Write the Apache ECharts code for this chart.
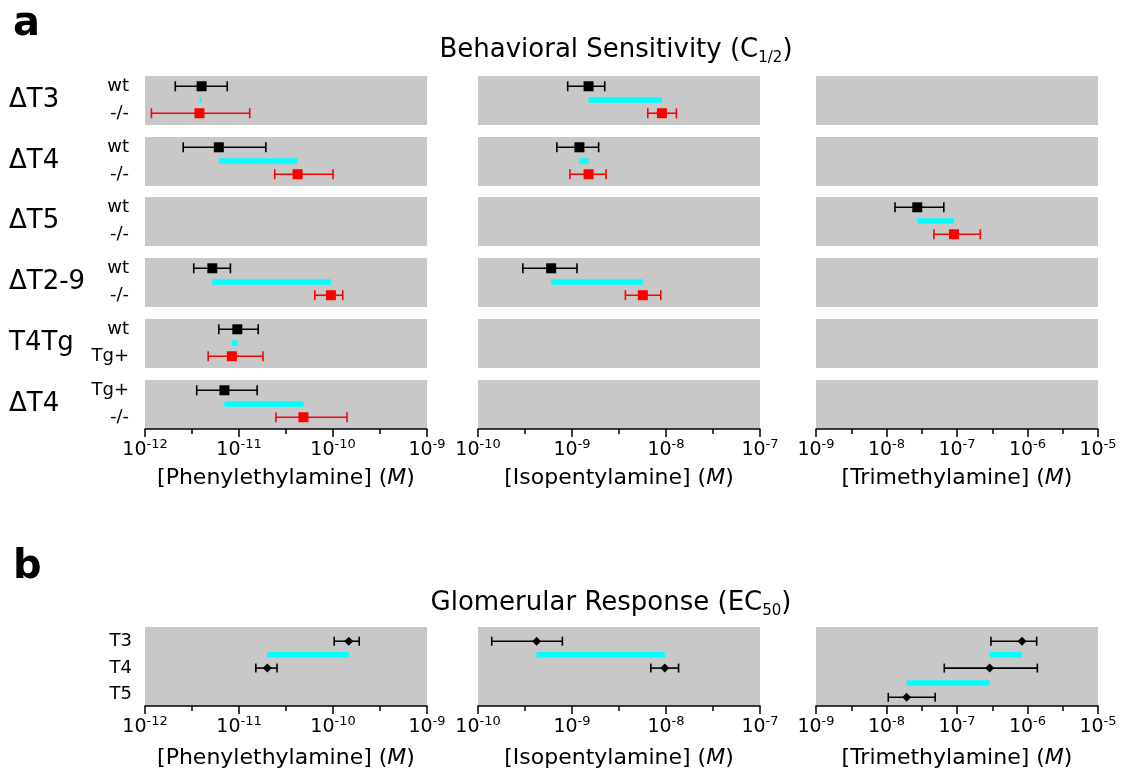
<!DOCTYPE html>
<html>
<head>
<meta charset="utf-8">
<title>Behavioral Sensitivity / Glomerular Response</title>
<script src="https://cdn.jsdelivr.net/npm/echarts@6.0.0/dist/echarts.min.js"></script>
<style>
  html, body { margin: 0; padding: 0; background: #fff; }
  #main { width: 1125px; height: 773px; }
</style>
</head>
<body>
<div id="main"></div>
<script>
// ---------------- data ----------------
const odorants = ['Phenylethylamine', 'Isopentylamine', 'Trimethylamine'];
const expMin = [-12, -10, -9];
const expMax = [-9, -7, -5];

const conditions = ['ΔT3', 'ΔT4', 'ΔT5', 'ΔT2-9', 'T4Tg', 'ΔT4'];
const ctrlLabels = ['wt', 'wt', 'wt', 'wt', 'wt', 'Tg+'];
const mutLabels = ['-/-', '-/-', '-/-', '-/-', 'Tg+', '-/-'];

// behavioral C1/2 : [mean, lower, upper] in M, null = not tested
const peaCtrl = [[4.0e-12, 2.1e-12, 7.5e-12], [6.1e-12, 2.55e-12, 1.93e-11], null,
  [5.2e-12, 3.3e-12, 8.1e-12], [9.6e-12, 6.1e-12, 1.6e-11], [7.0e-12, 3.55e-12, 1.56e-11]];
const peaMut = [[3.8e-12, 1.17e-12, 1.3e-11], [4.2e-11, 2.4e-11, 1.0e-10], null,
  [9.5e-11, 6.4e-11, 1.27e-10], [8.4e-12, 4.7e-12, 1.8e-11], [4.85e-11, 2.47e-11, 1.41e-10]];
const ipaCtrl = [[1.5e-9, 9.0e-10, 2.23e-9], [1.2e-9, 6.9e-10, 1.92e-9], null,
  [6.0e-10, 3.0e-10, 1.13e-9], null, null];
const ipaMut = [[9.05e-9, 6.4e-9, 1.29e-8], [1.5e-9, 9.5e-10, 2.3e-9], null,
  [5.67e-9, 3.7e-9, 8.8e-9], null, null];
const tmaCtrl = [null, null, [2.73e-8, 1.32e-8, 6.5e-8], null, null, null];
const tmaMut = [null, null, [9.05e-8, 4.7e-8, 2.14e-7], null, null, null];

// glomerular EC50 : [mean, lower, upper] in M
const glomLabels = ['T3', 'T4', 'T5'];
const glomPea = [[1.47e-10, 1.03e-10, 1.9e-10], [2.0e-11, 1.51e-11, 2.54e-11], null];
const glomIpa = [[4.2e-10, 1.4e-10, 7.9e-10], [9.7e-9, 6.9e-9, 1.36e-8], null];
const glomTma = [[8.35e-7, 3.03e-7, 1.35e-6], [2.91e-7, 6.6e-8, 1.38e-6], [1.93e-8, 1.06e-8, 4.9e-8]];

const behCtrl = [peaCtrl, ipaCtrl, tmaCtrl];
const behMut = [peaMut, ipaMut, tmaMut];
const glomAll = [glomPea, glomIpa, glomTma];

// ---------------- layout ----------------
const FONT = 'DejaVu Sans';
const colLeft = [145, 478, 816];
const colWidth = 282;
const rowTop = [76, 137, 197, 258, 319, 380];
const rowHeight = 49;
const glomTop = 627;
const glomHeight = 79;

// vertical slots inside a panel (0 = top, 1 = bottom)
const yCtrl = 0.21, yDiff = 0.49, yMut = 0.76;
const yGlom = [0.18, 0.52, 0.89];
const yGlomDiff = [0.35, 0.71];
const yGlomLabel = [0.18, 0.52, 0.85];

const lg = Math.log10;
const BLACK = '#000000', RED = '#ff0000', CYAN = '#00ffff', GREY = '#c8c8c8';

function errorBar(color, cap) {
  return function (params, api) {
    const y = api.value(2);
    const p0 = api.coord([api.value(0), y]);
    const p1 = api.coord([api.value(1), y]);
    const style = { stroke: color, lineWidth: 1.6 };
    return {
      type: 'group',
      children: [
        { type: 'line', shape: { x1: p0[0], y1: p0[1], x2: p1[0], y2: p1[1] }, style },
        { type: 'line', shape: { x1: p0[0], y1: p0[1] - cap, x2: p0[0], y2: p0[1] + cap }, style },
        { type: 'line', shape: { x1: p1[0], y1: p1[1] - cap, x2: p1[0], y2: p1[1] + cap }, style }
      ]
    };
  };
}

function diffBar(params, api) {
  const y = api.value(2);
  const a = api.coord([api.value(0), y]);
  const b = api.coord([api.value(1), y]);
  const h = 5.5;
  return {
    type: 'rect',
    shape: { x: Math.min(a[0], b[0]), y: a[1] - h / 2, width: Math.max(Math.abs(b[0] - a[0]), 2), height: h },
    style: { fill: CYAN }
  };
}

function makeXAxis(gridIndex, c, show, labelMargin, nameGap) {
  return {
    gridIndex, type: 'value', min: expMin[c], max: expMax[c], interval: 1,
    show,
    axisLine: { show: true, onZero: false, lineStyle: { color: BLACK, width: 1.5 } },
    axisTick: { show: true, length: 8, lineStyle: { color: BLACK, width: 1.5 } },
    minorTick: { show: true, splitNumber: 2, length: 5, lineStyle: { color: BLACK, width: 1.5 } },
    splitLine: { show: false },
    axisLabel: {
      margin: labelMargin,
      formatter: v => '{b|10}{s|' + v + '}',
      rich: {
        b: { fontSize: 19, fontFamily: FONT, color: BLACK, lineHeight: 24 },
        s: { fontSize: 13, fontFamily: FONT, color: BLACK, lineHeight: 14, verticalAlign: 'top' }
      }
    },
    name: show ? '{n|[' + odorants[c] + '] (}{i|M}{n|)}' : '',
    nameLocation: 'middle',
    nameGap,
    nameTextStyle: {
      rich: {
        n: { fontSize: 22, fontFamily: FONT, color: BLACK },
        i: { fontSize: 22, fontFamily: FONT, color: BLACK, fontStyle: 'italic' }
      }
    }
  };
}

const grids = [], xAxes = [], yAxes = [], series = [];

function addMarks(gi, errData, errColor, cap, pts, symbol, size, diffs) {
  if (diffs.length) {
    series.push({ type: 'custom', xAxisIndex: gi, yAxisIndex: gi, renderItem: diffBar,
      encode: { x: [0, 1], y: 2 }, data: diffs, silent: true, z: 1 });
  }
  errData.forEach((d, k) => {
    series.push({ type: 'custom', xAxisIndex: gi, yAxisIndex: gi, renderItem: errorBar(errColor[k], cap),
      encode: { x: [0, 1], y: 2 }, data: [d], silent: true, z: 2 });
  });
  pts.forEach((p, k) => {
    series.push({ type: 'scatter', xAxisIndex: gi, yAxisIndex: gi, data: [p], symbol, symbolSize: size,
      itemStyle: { color: errColor[k], opacity: 1 }, silent: true, z: 3 });
  });
}

// panel a
for (let c = 0; c < 3; c++) {
  for (let r = 0; r < 6; r++) {
    const gi = grids.length;
    grids.push({ left: colLeft[c], top: rowTop[r], width: colWidth, height: rowHeight,
      show: true, backgroundColor: GREY, borderWidth: 0, outerBoundsMode: 'none' });
    xAxes.push(makeXAxis(gi, c, r === 5, 9, 38));
    yAxes.push({
      gridIndex: gi, type: 'value', min: 0, max: 1, inverse: true,
      axisLine: { show: false }, axisTick: { show: false }, splitLine: { show: false },
      axisLabel: {
        show: c === 0, margin: 16, customValues: [yCtrl, yMut],
        formatter: v => (v < 0.5 ? ctrlLabels[r] : mutLabels[r]),
        fontSize: 18, fontFamily: FONT, color: BLACK
      }
    });
    const ctrl = behCtrl[c][r], mut = behMut[c][r];
    if (ctrl && mut) {
      addMarks(gi,
        [[lg(ctrl[1]), lg(ctrl[2]), yCtrl], [lg(mut[1]), lg(mut[2]), yMut]],
        [BLACK, RED], 5,
        [[lg(ctrl[0]), yCtrl], [lg(mut[0]), yMut]], 'rect', 10,
        [[lg(ctrl[0]), lg(mut[0]), yDiff]]);
    }
  }
}

// panel b
for (let c = 0; c < 3; c++) {
  const gi = grids.length;
  grids.push({ left: colLeft[c], top: glomTop, width: colWidth, height: glomHeight,
    show: true, backgroundColor: GREY, borderWidth: 0, outerBoundsMode: 'none' });
  xAxes.push(makeXAxis(gi, c, true, 9, 41));
  yAxes.push({
    gridIndex: gi, type: 'value', min: 0, max: 1, inverse: true,
    axisLine: { show: false }, axisTick: { show: false }, splitLine: { show: false },
    axisLabel: {
      show: c === 0, margin: 13, customValues: yGlomLabel,
      formatter: v => {
        let best = 0;
        yGlomLabel.forEach((y, k) => { if (Math.abs(y - v) < Math.abs(yGlomLabel[best] - v)) best = k; });
        return glomLabels[best];
      },
      fontSize: 18, fontFamily: FONT, color: BLACK
    }
  });
  const g = glomAll[c];
  const errs = [], pts = [], cols = [], diffs = [];
  g.forEach((d, k) => {
    if (!d) return;
    errs.push([lg(d[1]), lg(d[2]), yGlom[k]]);
    pts.push([lg(d[0]), yGlom[k]]);
    cols.push(BLACK);
  });
  for (let k = 0; k < 2; k++) {
    if (g[k] && g[k + 1]) diffs.push([lg(g[k + 1][0]), lg(g[k][0]), yGlomDiff[k]]);
  }
  addMarks(gi, errs, cols, 4.5, pts, 'diamond', 9, diffs);
}

// text annotations
const titleRich = {
  t: { fontSize: 26, fontFamily: FONT, fill: BLACK, lineHeight: 32 },
  sub: { fontSize: 15, fontFamily: FONT, fill: BLACK, lineHeight: 12, verticalAlign: 'bottom' }
};
const graphics = [
  { type: 'text', x: 13, y: 25, style: { text: 'a', fontSize: 40, fontWeight: 'bold', fontFamily: FONT, fill: BLACK, verticalAlign: 'middle' } },
  { type: 'text', x: 13, y: 568, style: { text: 'b', fontSize: 40, fontWeight: 'bold', fontFamily: FONT, fill: BLACK, verticalAlign: 'middle' } },
  { type: 'text', x: 616, y: 50, style: {
      text: '{t|Behavioral Sensitivity (C}{sub|1/2}{t|)}', align: 'center', verticalAlign: 'middle', rich: titleRich } },
  { type: 'text', x: 611, y: 603, style: {
      text: '{t|Glomerular Response (EC}{sub|50}{t|)}', align: 'center', verticalAlign: 'middle', rich: titleRich } }
];
conditions.forEach((name, r) => {
  graphics.push({ type: 'text', x: 9, y: rowTop[r] + rowHeight / 2, style: {
    text: name, fontSize: 26, fontFamily: FONT, fill: BLACK, verticalAlign: 'middle' } });
});

const chart = echarts.init(document.getElementById('main'), null, { renderer: 'canvas' });
chart.setOption({
  animation: false,
  backgroundColor: '#ffffff',
  grid: grids,
  xAxis: xAxes,
  yAxis: yAxes,
  series,
  graphic: graphics
});
</script>
</body>
</html>
